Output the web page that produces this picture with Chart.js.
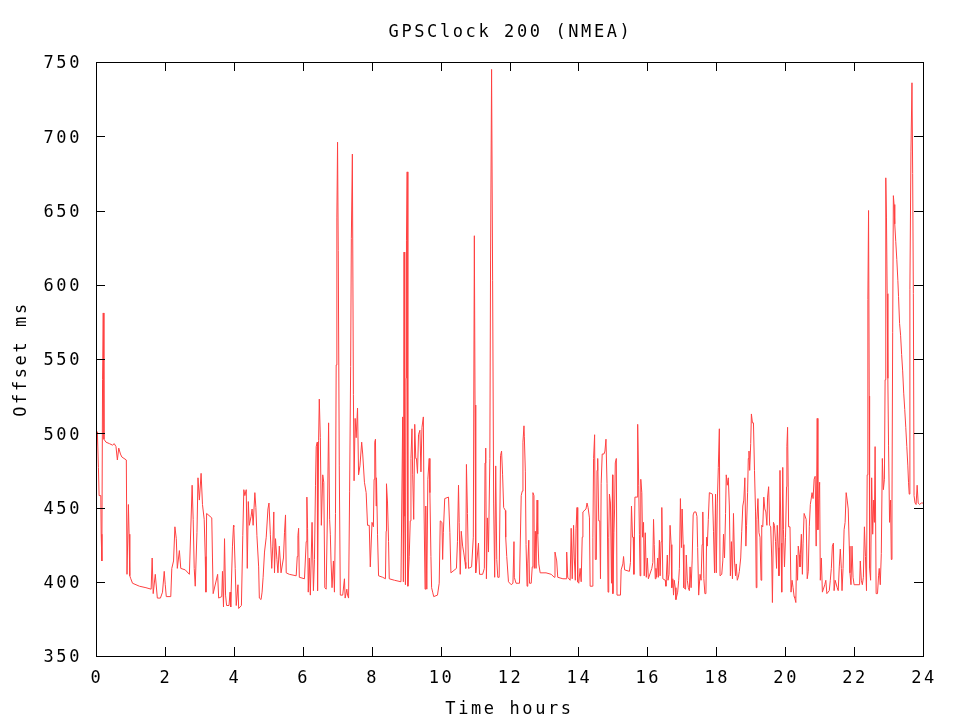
<!DOCTYPE html>
<html>
<head>
<meta charset="utf-8">
<script src="https://cdn.jsdelivr.net/npm/chart.js@4/dist/chart.umd.min.js"></script>
<style>
  html, body { margin: 0; padding: 0; background: #fff; }
  canvas { display: block; }
</style>
</head>
<body>
<canvas id="gps" width="960" height="720"></canvas>
<script>
// temps en heures
const hours = [
  0.00, 0.01, 0.02, 0.04, 0.07, 0.09, 0.14, 0.15, 0.17, 0.19, 0.21, 0.23, 0.29, 0.39, 0.48, 0.53, 0.58, 0.62, 0.66, 0.71,
  0.75, 0.88, 0.90, 0.94, 0.96, 0.98, 1.01, 1.06, 1.26, 1.45, 1.60, 1.63, 1.66, 1.72, 1.78, 1.87, 1.93, 1.98, 2.01, 2.04,
  2.17, 2.20, 2.25, 2.29, 2.33, 2.36, 2.42, 2.46, 2.59, 2.71, 2.79, 2.82, 2.85, 2.88, 2.93, 2.96, 3.00, 3.05, 3.09, 3.14,
  3.17, 3.19, 3.21, 3.36, 3.38, 3.40, 3.53, 3.56, 3.65, 3.67, 3.70, 3.73, 3.76, 3.79, 3.86, 3.89, 3.91, 3.96, 3.99,
  4.00, 4.04, 4.07, 4.12, 4.14, 4.22, 4.26, 4.29, 4.32, 4.36, 4.39, 4.42, 4.45, 4.50, 4.53, 4.56, 4.61, 4.64, 4.67, 4.72,
  4.74, 4.79, 4.82, 4.85, 4.89, 4.94, 4.99, 5.02, 5.06, 5.10, 5.13, 5.16, 5.18, 5.21, 5.25, 5.28, 5.32, 5.37, 5.44, 5.47,
  5.50, 5.52, 5.61, 5.81, 5.84, 5.86, 5.88, 5.90, 6.05, 6.10, 6.12, 6.14, 6.16, 6.19, 6.22, 6.27, 6.31, 6.34, 6.37, 6.39,
  6.42, 6.43, 6.46, 6.48, 6.51, 6.54, 6.58, 6.61, 6.64, 6.68, 6.72, 6.75, 6.78, 6.80, 6.82, 6.85, 6.89, 6.92, 6.95, 6.97,
  6.99, 7.01, 7.03, 7.06, 7.09, 7.16, 7.21, 7.23, 7.28, 7.30, 7.33, 7.36, 7.39, 7.41, 7.44, 7.47, 7.49, 7.52, 7.55, 7.59,
  7.62, 7.66, 7.71, 7.74, 7.79, 7.84, 7.88, 7.93, 7.96, 8.01,
  8.05, 8.07, 8.09, 8.11, 8.13, 8.14, 8.17, 8.20, 8.32, 8.40, 8.42, 8.43, 8.46, 8.49, 8.51, 8.66, 8.85, 8.90, 8.92, 8.94,
  8.96, 8.98, 9.00, 9.01, 9.03, 9.05, 9.09, 9.12, 9.14, 9.17, 9.19, 9.22, 9.25, 9.28, 9.30, 9.33, 9.36, 9.40, 9.43, 9.46,
  9.50, 9.52, 9.55, 9.57, 9.60, 9.63, 9.67, 9.69, 9.72, 9.74, 9.77, 9.80, 9.91, 9.96, 9.99, 10.04, 10.06, 10.08, 10.12, 10.23,
  10.27, 10.30, 10.46, 10.49, 10.52, 10.54, 10.57, 10.60, 10.64, 10.67, 10.71, 10.73, 10.75, 10.78, 10.81, 10.90, 10.95, 10.98, 11.00, 11.02,
  11.10, 11.13, 11.22, 11.27, 11.29, 11.31, 11.33, 11.36, 11.39, 11.43, 11.45, 11.48, 11.51, 11.54, 11.57, 11.60, 11.63, 11.66, 11.70, 11.74,
  11.77, 11.80, 11.83, 11.88, 11.89, 11.92, 11.97,
  12.05, 12.10, 12.13, 12.14, 12.19, 12.29, 12.34, 12.37, 12.39, 12.42, 12.43, 12.46, 12.48, 12.51, 12.53, 12.56, 12.58, 12.63, 12.66, 12.68,
  12.71, 12.72, 12.75, 12.77, 12.80, 12.82, 12.85, 12.89, 13.06, 13.21, 13.30, 13.32, 13.37, 13.40, 13.55, 13.64, 13.66, 13.69, 13.76, 13.79,
  13.82, 13.86, 13.88, 13.91, 13.93, 13.96, 13.98, 14.01, 14.05, 14.08, 14.11, 14.13, 14.22, 14.25, 14.28, 14.32, 14.34, 14.40, 14.42, 14.44,
  14.47, 14.49, 14.52, 14.54, 14.56, 14.59, 14.62, 14.64, 14.66, 14.69, 14.74, 14.77, 14.80, 14.83, 14.86, 14.88, 14.90, 14.93, 14.96, 14.99,
  15.00, 15.03, 15.05, 15.07, 15.10, 15.12, 15.22, 15.24, 15.29, 15.31, 15.34, 15.48, 15.51, 15.54, 15.57, 15.59, 15.61, 15.64, 15.71, 15.72,
  15.75, 15.77, 15.79, 15.81, 15.84, 15.86, 15.89, 15.91, 15.94, 15.97, 16.00, 16.03,
  16.13, 16.16, 16.18, 16.20, 16.23, 16.25, 16.27, 16.30, 16.32, 16.35, 16.37, 16.40, 16.42, 16.45, 16.52, 16.54, 16.58, 16.60, 16.63, 16.66,
  16.69, 16.71, 16.74, 16.76, 16.78, 16.81, 16.83, 16.88, 16.91, 16.93, 16.96, 16.99, 17.01, 17.04, 17.06, 17.11, 17.13, 17.16, 17.19, 17.22,
  17.24, 17.27, 17.30, 17.33, 17.36, 17.41, 17.44, 17.46, 17.49, 17.53, 17.56, 17.59, 17.61, 17.64, 17.67, 17.70, 17.72, 17.74, 17.77, 17.80,
  17.89, 17.92, 17.95, 17.98, 18.00, 18.03, 18.06, 18.09, 18.11, 18.16, 18.19, 18.21, 18.24, 18.27, 18.29, 18.32, 18.35, 18.38, 18.41, 18.44,
  18.47, 18.50, 18.53, 18.56, 18.58, 18.61, 18.64, 18.67, 18.71, 18.74, 18.77, 18.80, 18.83, 18.86, 18.88, 18.91, 18.93, 18.95, 18.97, 19.00,
  19.02, 19.05, 19.08, 19.11, 19.14, 19.16, 19.18, 19.21, 19.24, 19.27, 19.30, 19.32, 19.35, 19.38, 19.41, 19.44, 19.47, 19.49, 19.52, 19.55,
  19.58, 19.61, 19.63, 19.66, 19.69, 19.72, 19.75, 19.77, 19.80, 19.82, 19.85, 19.88, 19.90, 19.93, 19.95, 19.98, 20.01, 20.04, 20.05, 20.07,
  20.10, 20.14, 20.17, 20.20, 20.23, 20.26,
  20.28, 20.31, 20.33, 20.36, 20.38, 20.41, 20.43, 20.44, 20.47, 20.50, 20.52, 20.55, 20.61, 20.64, 20.67, 20.70, 20.73, 20.75, 20.78, 20.81,
  20.84, 20.87, 20.90, 20.93, 20.95, 20.98, 21.00, 21.02, 21.05, 21.08, 21.15, 21.18, 21.21, 21.28, 21.31, 21.34, 21.37, 21.40, 21.42, 21.45,
  21.51, 21.54, 21.57, 21.60, 21.63, 21.65, 21.68, 21.71, 21.74, 21.77, 21.80, 21.83, 21.86, 21.88, 21.91, 21.94, 21.97, 22.00, 22.16, 22.18,
  22.21, 22.24, 22.27, 22.30, 22.33, 22.36, 22.38, 22.40, 22.42, 22.44, 22.45, 22.48, 22.51, 22.54, 22.57, 22.59, 22.61, 22.64, 22.68, 22.71,
  22.73, 22.76, 22.79, 22.82, 22.85, 22.88, 22.90, 22.92, 22.94, 22.96, 22.98, 23.00, 23.03, 23.06, 23.08, 23.10, 23.12, 23.14, 23.16, 23.18,
  23.21, 23.24, 23.27, 23.29, 23.32, 23.35, 23.38, 23.41, 23.44, 23.47, 23.50, 23.53, 23.56, 23.58, 23.60, 23.62, 23.65, 23.68, 23.70, 23.72,
  23.74, 23.77, 23.80, 23.83, 23.86, 23.90, 23.95, 24.00
];

// décalage en ms pour chaque point
const offsetMs = [
  447, 413, 491, 501, 477, 458, 458, 432, 414, 536, 581, 496, 494, 493, 492, 493, 491, 482, 490, 486,
  484, 482, 405, 452, 432, 404, 402, 399, 397, 396, 395, 416, 392, 405, 389, 389, 393, 407, 398, 390,
  390, 409, 414, 437, 429, 409, 421, 409, 408, 405, 465, 442, 409, 397, 433, 470, 455, 473, 452, 442,
  417, 393, 446, 443, 416, 392, 405, 389, 390, 407, 383, 429, 391, 384, 384, 393, 383, 424, 438,
  437, 409, 384, 398, 382, 384, 431, 462, 458, 462, 409, 454, 438, 444, 449, 438, 460, 450, 431, 410,
  389, 388, 393, 403, 420, 430, 449, 453, 432, 409, 424, 447, 406, 429, 415, 406, 424, 406, 416, 433,
  445, 406, 405, 404, 417, 431, 436, 403, 402, 427, 457, 436, 393, 416, 391, 440, 394, 415, 465, 491,
  494, 394, 495, 523, 497, 438, 472, 467, 396, 395, 451, 507, 442, 432, 414, 396, 414, 393, 446, 546,
  645, 696, 623, 478, 391, 391, 402, 389, 395, 391, 389, 461, 545, 631, 688, 526, 468, 510, 497, 517,
  472, 478, 494, 486, 467, 460, 438, 438, 410, 440,
  437, 469, 494, 496, 451, 470, 432, 404, 403, 402, 434, 466, 453, 427, 402, 401, 400, 511, 400, 622,
  444, 398, 537, 630, 676, 397, 417, 441, 483, 503, 472, 442, 506, 483, 483, 473, 499, 502, 474, 504,
  511, 449, 395, 451, 395, 469, 483, 460, 417, 396, 393, 390, 391, 399, 441, 440, 415, 433, 456, 457,
  433, 406, 409, 427, 465, 440, 405, 434, 424, 420, 413, 409, 479, 446, 409, 410, 430, 633, 519, 406,
  426, 405, 405, 409, 480, 490, 402, 443, 420, 483, 616, 745, 603, 453, 403, 478, 415, 403, 403, 485,
  488, 472, 450, 448, 430, 417, 400,
  398, 399, 427, 403, 399, 399, 458, 461, 494, 505, 498, 474, 425, 397, 412, 428, 399, 399, 410, 460,
  458, 409, 434, 409, 455, 432, 412, 406, 406, 405, 403, 420, 414, 403, 402, 402, 420, 403, 401, 436,
  402, 438, 416, 401, 436, 450, 400, 399, 409, 400, 430, 447, 449, 453, 450, 443, 397, 397, 430, 483,
  499, 415, 415, 475, 483, 441, 441, 402, 466, 486, 486, 488, 496, 466, 393, 430, 459, 453, 399, 472,
  392, 433, 449, 480, 483, 391, 391, 408, 412, 417, 408, 407, 413, 451, 430, 430, 405, 457, 457, 506,
  465, 432, 404, 469, 460, 430, 440, 404, 433, 403, 416, 402,
  409, 413, 442, 425, 402, 409, 403, 416, 403, 428, 404, 427, 450, 402, 401, 397, 418, 401, 405, 438,
  425, 396, 402, 391, 401, 396, 388, 393, 401, 409, 456, 423, 449, 425, 396, 395, 418, 401, 396, 394,
  410, 396, 414, 445, 447, 447, 444, 423, 391, 405, 401, 425, 447, 402, 392, 392, 430, 424, 442, 460,
  459, 434, 406, 459, 406, 453, 477, 503, 404, 405, 414, 432, 416, 446, 472, 465, 470, 451, 404, 427,
  402, 446, 414, 404, 412, 401, 403, 407, 416, 434, 451, 455, 470, 424, 438, 460, 483, 488, 475, 493,
  513, 507, 507, 475, 447, 396, 442, 456, 433, 430, 401, 438, 437, 457, 449, 447, 438, 457, 464, 438,
  437, 416, 386, 440, 438, 427, 409, 438, 423, 404, 475, 426, 393, 477, 435, 410, 430, 464, 491, 504,
  437, 437, 393, 401, 396, 390,
  389, 386, 418, 401, 424, 418, 410, 418, 432, 405, 426, 446, 442, 402, 407, 437, 452, 455, 460, 456,
  469, 471, 424, 510, 435, 456, 467, 401, 416, 393, 398, 401, 392, 394, 401, 409, 424, 426, 394, 401,
  396, 394, 410, 422, 409, 394, 409, 435, 440, 460, 455, 449, 424, 406, 398, 424, 403, 398, 398, 414,
  401, 398, 403, 437, 417, 394, 472, 590, 650, 525, 409, 401, 470, 432, 455, 440, 491, 392, 392, 404,
  409, 398, 419, 483, 462, 469, 536, 672, 645, 594, 537, 492, 440, 455, 415, 453, 568, 660, 654, 641,
  629, 617, 603, 592, 574, 566, 553, 542, 527, 516, 504, 491, 478, 467, 459, 597, 690, 736, 675, 594,
  458, 453, 452, 465, 453, 452, 453, 453
];

// graduations des axes
const xTickValues = [0, 2, 4, 6, 8, 10, 12, 14, 16, 18, 20, 22, 24];
const yTickValues = [350, 400, 450, 500, 550, 600, 650, 700, 750];
const titre = "GPSClock 200 (NMEA)";

const points = hours.map((h, i) => ({ x: h, y: offsetMs[i] }));

const police = "'DejaVu Sans Mono', monospace";
const espacement = "2.6px"; // lettres espacées comme la police de gnuplot

// cadre noir + petites graduations vers l'intérieur + titre centré sur la zone du graphe
const cadre = {
  id: "cadre",
  beforeLayout(chart) {
    chart.ctx.letterSpacing = espacement;
  },
  beforeDraw(chart) {
    chart.ctx.letterSpacing = espacement;
  },
  afterDatasetsDraw(chart) {
    const { ctx, chartArea: a, scales } = chart;
    const len = 9;
    ctx.save();
    ctx.strokeStyle = "#000";
    ctx.lineWidth = 1;
    ctx.beginPath();
    scales.x.ticks.forEach((t) => {
      const px = Math.round(scales.x.getPixelForValue(t.value)) + 0.5;
      ctx.moveTo(px, a.bottom);
      ctx.lineTo(px, a.bottom - len);
      ctx.moveTo(px, a.top);
      ctx.lineTo(px, a.top + len);
    });
    scales.y.ticks.forEach((t) => {
      const py = Math.round(scales.y.getPixelForValue(t.value)) + 0.5;
      ctx.moveTo(a.left, py);
      ctx.lineTo(a.left + len, py);
      ctx.moveTo(a.right, py);
      ctx.lineTo(a.right - len, py);
    });
    ctx.stroke();
    ctx.strokeRect(Math.round(a.left) + 0.5, Math.round(a.top) + 0.5,
      Math.round(a.right - a.left), Math.round(a.bottom - a.top));
    // titre
    ctx.fillStyle = "#000";
    ctx.font = "17px " + police;
    ctx.letterSpacing = espacement;
    ctx.textAlign = "center";
    ctx.textBaseline = "middle";
    ctx.fillText(titre, (a.left + a.right) / 2 + 1, 32.5);
    ctx.restore();
  },
};

Chart.defaults.color = "#000";
Chart.defaults.font.family = police;
Chart.defaults.font.size = 17;

const config = {
  type: "line",
  data: {
    datasets: [
      {
        label: "offset",
        data: points,
        borderColor: "#ff4040",
        borderWidth: 1,
        pointRadius: 0,
        tension: 0,
        fill: false,
      },
    ],
  },
  options: {
    responsive: false,
    animation: false,
    layout: { padding: { left: 0, right: 37, top: 62, bottom: 0 } },
    plugins: {
      legend: { display: false },
      tooltip: { enabled: false },
      title: { display: false },
    },
    scales: {
      x: {
        type: "linear",
        min: 0,
        max: 24,
        afterBuildTicks: (s) => { s.ticks = xTickValues.map((v) => ({ value: v })); },
        afterFit: (s) => { s.height = 64; },
        grid: { display: false, drawTicks: false },
        border: { display: false },
        ticks: { padding: 12, maxRotation: 0, labelOffset: 1 },
        title: { display: true, text: "Time hours", padding: { top: 0, bottom: 0 } },
      },
      y: {
        type: "linear",
        min: 350,
        max: 750,
        afterBuildTicks: (s) => { s.ticks = yTickValues.map((v) => ({ value: v })); },
        afterFit: (s) => { s.width = 96; },
        grid: { display: false, drawTicks: false },
        border: { display: false },
        ticks: { padding: 14, labelOffset: 2 },
        title: { display: true, text: "Offset ms", padding: { top: 11, bottom: 0 } },
      },
    },
  },
  plugins: [cadre],
};

let context = document.getElementById("gps").getContext("2d");
let chart = new Chart(context, config);
</script>
</body>
</html>
